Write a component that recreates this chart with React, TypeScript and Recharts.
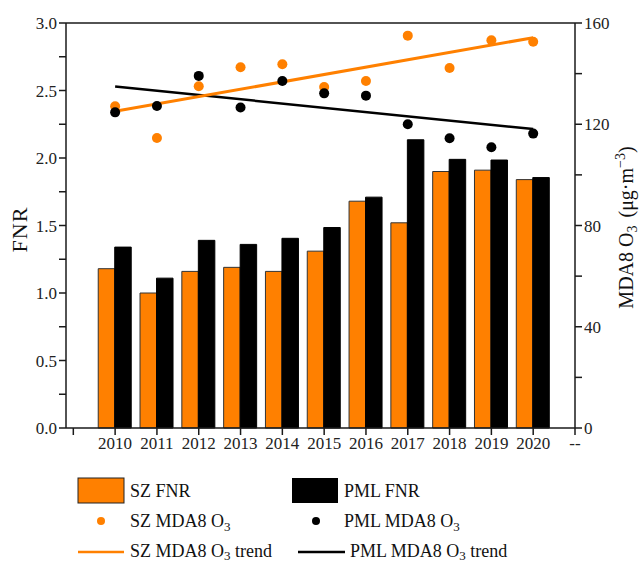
import {
  ComposedChart, Bar, Line, XAxis, YAxis, ReferenceLine,
} from "recharts"

const years = [2010, 2011, 2012, 2013, 2014, 2015, 2016, 2017, 2018, 2019, 2020]
const szFnr = [1.18, 1.0, 1.16, 1.19, 1.16, 1.31, 1.68, 1.52, 1.9, 1.91, 1.84]
const pmlFnr = [1.34, 1.11, 1.39, 1.36, 1.405, 1.485, 1.71, 2.135, 1.99, 1.985, 1.855]
const szO3 = [127.1, 114.6, 135.0, 142.5, 143.7, 134.7, 137.1, 155.0, 142.2, 153.2, 152.6]
const pmlO3 = [124.7, 127.2, 139.1, 126.6, 137.1, 132.2, 131.3, 120.0, 114.5, 110.9, 116.3]
// trend line end values (2010, 2020)
const szTrend = [125.1, 154.2]
const pmlTrend = [134.9, 118.1]

const xTicks = [2009, 2010, 2011, 2012, 2013, 2014, 2015, 2016, 2017, 2018, 2019, 2020, 2021]
const fnrTicks = [0, 0.25, 0.5, 0.75, 1, 1.25, 1.5, 1.75, 2, 2.25, 2.5, 2.75, 3]
const o3Ticks = [0, 20, 40, 60, 80, 100, 120, 140, 160]

const ORANGE = "#ff8000"
const FONT = "'Liberation Serif', serif"
const last = years.length - 1

const data = years.map((year, i) => ({
  year,
  szFnr: szFnr[i],
  pmlFnr: pmlFnr[i],
  szO3: szO3[i],
  pmlO3: pmlO3[i],
  szTrend: i === 0 ? szTrend[0] : i === last ? szTrend[1] : null,
  pmlTrend: i === 0 ? pmlTrend[0] : i === last ? pmlTrend[1] : null,
}))

const axisStroke = { stroke: "#1a1a1a", strokeWidth: 1.5 }
const tickStyle = { fontFamily: FONT, fontSize: 17, fill: "#222" }

function LeftLabel(props: any) {
  const vb = props.viewBox
  const cy = vb.y + vb.height / 2 + 4
  return (
    <text x={0} y={0} transform={`translate(27, ${cy}) rotate(-90)`} textAnchor="middle"
      fontFamily={FONT} fontSize={22} letterSpacing={1} fill="#111">FNR</text>
  )
}

function RightLabel(props: any) {
  const vb = props.viewBox
  const cy = vb.y + vb.height / 2 + 2
  return (
    <text x={0} y={0} transform={`translate(633, ${cy}) rotate(-90)`} textAnchor="middle"
      fontFamily={FONT} fontSize={20} fill="#111">
      MDA8 O<tspan fontSize={14} dy={4}>3</tspan>
      <tspan dy={-4} dx={8}>{"(μg·m"}</tspan>
      <tspan fontSize={14} dy={-8}>−3</tspan>
      <tspan dy={8}>)</tspan>
    </text>
  )
}

function LegendBox() {
  const t = { fontFamily: FONT, fontSize: 18, fill: "#111" }
  return (
    <svg width={641} height={100} style={{ position: "absolute", left: 0, top: 464 }}>
      <rect x={78} y={14} width={46} height={25} fill={ORANGE} stroke="#222" strokeWidth={1} />
      <text x={130} y={33} {...t}>SZ FNR</text>
      <rect x={292} y={14} width={46} height={25} fill="#000" />
      <text x={344} y={33} {...t}>PML FNR</text>

      <circle cx={101} cy={57} r={4} fill={ORANGE} />
      <text x={130} y={63} {...t}>SZ MDA8 O<tspan fontSize={13} dy={4}>3</tspan></text>
      <circle cx={316} cy={57} r={4} fill="#000" />
      <text x={344} y={63} {...t}>PML MDA8 O<tspan fontSize={13} dy={4}>3</tspan></text>

      <line x1={78} x2={124} y1={88} y2={88} stroke={ORANGE} strokeWidth={2.5} />
      <text x={130} y={93} {...t}>SZ MDA8 O<tspan fontSize={13} dy={3}>3</tspan><tspan dy={-3}> trend</tspan></text>
      <line x1={298} x2={345} y1={88} y2={88} stroke="#000" strokeWidth={2.5} />
      <text x={350} y={93} {...t}>PML MDA8 O<tspan fontSize={13} dy={3}>3</tspan><tspan dy={-3}> trend</tspan></text>
    </svg>
  )
}

export default function App() {
  return (
    <div style={{ position: "absolute", left: 0, top: 0, width: 641, height: 564, background: "#fff" }}>
      <ComposedChart
        width={641}
        height={564}
        data={data}
        margin={{ top: 23, right: 0, bottom: 106, left: 0 }}
        barGap={0}
      >
        <XAxis
          dataKey="year"
          type="number"
          domain={[2008.825, 2021]}
          allowDataOverflow
          ticks={xTicks}
          interval={0}
          tickFormatter={(v: number) => (v === 2009 ? "" : v === 2021 ? "--" : String(v))}
          axisLine={axisStroke}
          tickLine={axisStroke}
          tickSize={7}
          tick={tickStyle}
          height={30}
        />
        <YAxis
          yAxisId="left"
          domain={[0, 3]}
          ticks={fnrTicks}
          interval={0}
          tickFormatter={(v: number) => (Math.abs(v * 2 - Math.round(v * 2)) < 1e-6 ? v.toFixed(1) : "")}
          axisLine={axisStroke}
          tickLine={axisStroke}
          tickSize={7}
          tick={tickStyle}
          width={66}
          label={<LeftLabel />}
        />
        <YAxis
          yAxisId="right"
          orientation="right"
          domain={[0, 160]}
          ticks={o3Ticks}
          interval={0}
          tickFormatter={(v: number) => (v % 40 === 0 ? String(v) : "")}
          axisLine={axisStroke}
          tickLine={axisStroke}
          tickSize={7}
          tick={tickStyle}
          width={66}
          label={<RightLabel />}
        />
        <ReferenceLine yAxisId="left" y={3} stroke="#1a1a1a" strokeWidth={1.5} ifOverflow="extendDomain" />
        <Bar yAxisId="left" dataKey="szFnr" fill={ORANGE} stroke="#333" strokeWidth={1} barSize={16.5} isAnimationActive={false} />
        <Bar yAxisId="left" dataKey="pmlFnr" fill="#000" stroke="#000" strokeWidth={1} barSize={16.5} isAnimationActive={false} />
        <Line yAxisId="right" dataKey="szO3" stroke="none" dot={{ r: 5, fill: ORANGE, stroke: "none" }} activeDot={false} isAnimationActive={false} />
        <Line yAxisId="right" dataKey="pmlO3" stroke="none" dot={{ r: 5, fill: "#000", stroke: "none" }} activeDot={false} isAnimationActive={false} />
        <Line yAxisId="right" dataKey="pmlTrend" connectNulls stroke="#000" strokeWidth={2.5} dot={false} activeDot={false} isAnimationActive={false} />
        <Line yAxisId="right" dataKey="szTrend" connectNulls stroke={ORANGE} strokeWidth={3} dot={false} activeDot={false} isAnimationActive={false} />
      </ComposedChart>
      <LegendBox />
    </div>
  )
}
